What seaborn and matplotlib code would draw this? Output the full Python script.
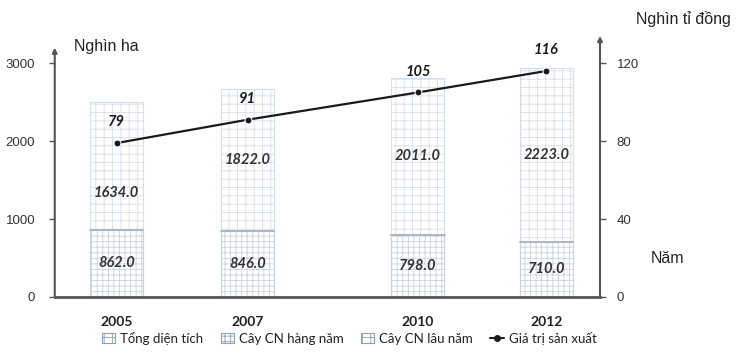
import matplotlib
matplotlib.use("Agg")
import matplotlib.pyplot as plt
from matplotlib.patches import Patch
from matplotlib.lines import Line2D
import seaborn as sns
import pandas as pd
import numpy as np

# Data
years = ["2005", "2007", "2010", "2012"]
cay_hang_nam = [862.0, 846.0, 798.0, 710.0]      # Cây CN hàng năm (nghìn ha)
cay_lau_nam = [1634.0, 1822.0, 2011.0, 2223.0]   # Cây CN lâu năm (nghìn ha)
gia_tri = [79, 91, 105, 116]                     # Giá trị sản xuất (nghìn tỉ đồng)

left_ticks = [0, 1000, 2000, 3000]
right_ticks = [0, 40, 80, 120]

# Layout: horizontal slot for each year
pos = [0.0, 1.0, 2.3, 3.28]

sns.set_theme(style="white")
plt.rcParams["font.family"] = ["Liberation Sans", "DejaVu Sans"]
plt.rcParams["hatch.linewidth"] = 0.6

df = pd.DataFrame({
    "pos": pos,
    "nam": years,
    "hang_nam": cay_hang_nam,
    "lau_nam": cay_lau_nam,
    "tong": np.add(cay_hang_nam, cay_lau_nam),
    "gia_tri": gia_tri,
})

fig = plt.figure(figsize=(7.5, 3.56), dpi=100)
ax = fig.add_axes([0.073, 0.166, 0.727, 0.733])

edge = "#b7c6d6"
sns.barplot(data=df, x="pos", y="tong", native_scale=True, width=0.413,
            color="white", edgecolor=edge, linewidth=0.8, ax=ax)
n_top = len(ax.patches)
for p in ax.patches[:n_top]:
    p.set_hatch("++")
    p.set_edgecolor("#d6dee8")
sns.barplot(data=df, x="pos", y="hang_nam", native_scale=True, width=0.413,
            color="white", edgecolor=edge, linewidth=0.8, ax=ax)
for p in ax.patches[n_top:]:
    p.set_hatch("+++")
    p.set_edgecolor("#c8d2de")
# Segment boundary
for x, h in zip(pos, cay_hang_nam):
    ax.plot([x - 0.203, x + 0.203], [h, h], color="#a9b6c4", lw=1.4, zorder=3)

ax.set_xlim(-0.473, 3.69)
ax.set_ylim(0, 3350)
ax.set_xticks(pos)
ax.set_xticklabels(years, fontfamily="Lato", fontweight="bold", fontsize=10,
                   color="#222222")
ax.set_yticks(left_ticks)
ax.set_yticklabels([str(t) for t in left_ticks], fontsize=9.5, color="#333333")
ax.tick_params(axis="x", length=0, pad=14)
ax.tick_params(axis="y", left=True, length=4, width=1, color="#555555", pad=10)
ax.set_xlabel("")
ax.set_ylabel("")
for s in ["top", "left", "right"]:
    ax.spines[s].set_visible(False)
ax.spines["bottom"].set_color("#555555")
ax.spines["bottom"].set_linewidth(2)

# Value labels inside bars
lab_shift = [-340, 0, 0, 0]
for x, lo, up, d in zip(pos, cay_hang_nam, cay_lau_nam, lab_shift):
    ax.text(x, lo / 2, f"{lo:.1f}", ha="center", va="center", fontfamily="Lato",
            fontweight="bold", fontstyle="italic", fontsize=10.5, color="#333333")
    ax.text(x, lo + up / 2 + d, f"{up:.1f}", ha="center", va="center",
            fontfamily="Lato", fontweight="bold", fontstyle="italic",
            fontsize=10.5, color="#333333")

# Secondary axis: production value
ax2 = ax.twinx()
ax2.set_ylim(0, 134)
sns.lineplot(data=df, x="pos", y="gia_tri", color="#1a1a1a", lw=1.6,
             marker="o", markersize=5, ax=ax2)
for x, v in zip(pos, gia_tri):
    ax2.annotate(str(v), (x, v), xytext=(0, 10), textcoords="offset points",
                 ha="center", va="bottom", fontfamily="Lato",
                 fontweight="bold", fontstyle="italic", fontsize=10.5,
                 color="#1a1a1a")
ax2.set_yticks(right_ticks)
ax2.set_yticklabels([str(t) for t in right_ticks], fontsize=9.5, color="#333333")
ax2.tick_params(axis="y", right=True, length=4, width=1, color="#555555", pad=8)
ax2.set_ylabel("")
for s in ["top", "left", "right", "bottom"]:
    ax2.spines[s].set_visible(False)

# Axis lines with arrowheads
ax.annotate("", xy=(-0.473, 3200), xytext=(-0.473, 0), xycoords="data",
            arrowprops=dict(arrowstyle="-|>", color="#555555", lw=1.5,
                            mutation_scale=7, shrinkA=0, shrinkB=0))
ax.annotate("", xy=(3.69, 3350), xytext=(3.69, 0), xycoords="data",
            arrowprops=dict(arrowstyle="-|>", color="#555555", lw=1.5,
                            mutation_scale=7, shrinkA=0, shrinkB=0),
            annotation_clip=False)

# Axis titles
fig.text(0.099, 0.868, "Nghìn ha", fontsize=11.5, color="#222222",
         ha="left", va="center")
fig.text(0.848, 0.948, "Nghìn tỉ đồng", fontsize=11.5, color="#222222",
         ha="left", va="center")
fig.text(0.868, 0.275, "Năm", fontsize=11.5, color="#222222",
         ha="left", va="center")

# Legend
handles = [
    Patch(facecolor="white", edgecolor="#8fa0b2", hatch="++", lw=0.8),
    Patch(facecolor="white", edgecolor="#8fa0b2", hatch="+++", lw=0.8),
    Patch(facecolor="white", edgecolor="#8fa0b2", hatch="++", lw=0.8),
    Line2D([0], [0], color="#1a1a1a", lw=1.5, marker="o", markersize=4),
]
labels = ["Tổng diện tích", "Cây CN hàng năm", "Cây CN lâu năm", "Giá trị sản xuất"]
fig.legend(handles, labels, loc="center left", bbox_to_anchor=(0.12, 0.05),
           ncol=4, frameon=False, prop={"family": "Lato", "size": 9.5},
           handlelength=1.0, handleheight=0.8, handletextpad=0.4,
           columnspacing=1.3, labelcolor="#222222")

fig.savefig("out.png", dpi=100)
